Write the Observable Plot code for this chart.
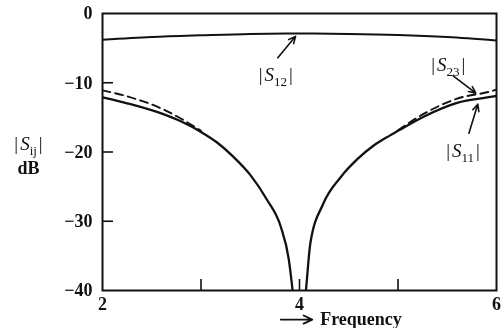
<!DOCTYPE html>
<html>
<head>
<meta charset="utf-8">
<script src="https://cdn.jsdelivr.net/npm/d3@7"></script>
<script src="https://cdn.jsdelivr.net/npm/@observablehq/plot@0.6"></script>
<style>
  html, body { margin: 0; padding: 0; background: #fff; }
  #chart svg { display: block; will-change: transform; }
</style>
</head>
<body>
<div id="chart"></div>
<script>
// |S12|: coupled transmission across the band (dB)
const s12Freq = [2, 2.5, 3, 3.5, 4, 4.5, 5, 5.5, 6];
const s12Db   = [-3.8, -3.4, -3.15, -2.95, -2.9, -2.95, -3.1, -3.4, -3.9];

// |S11|: input match, falling into a deep null at the centre frequency
const s11LowFreq  = [2, 2.26, 2.61, 2.8, 3.0, 3.17, 3.33, 3.5, 3.67, 3.81, 3.89, 3.93, 3.945];
const s11LowDb    = [-12.1, -13.0, -14.5, -15.6, -17.1, -18.7, -20.7, -23.3, -26.9, -30.8, -35.4, -40, -42];
const s11HighFreq = [4.05, 4.065, 4.11, 4.24, 4.42, 4.59, 4.75, 4.92, 5.03, 5.26, 5.6, 5.94, 6];
const s11HighDb   = [-42, -40, -33.2, -27.5, -23.6, -21.0, -19.1, -17.6, -16.7, -14.9, -12.9, -12.05, -11.9];

// |S23|: isolation (dashed), visible where it separates from |S11|
const s23LowFreq  = [2, 2.26, 2.61, 2.8, 3.0];
const s23LowDb    = [-11.1, -12.0, -13.8, -15.2, -16.95];
const s23HighFreq = [5.0, 5.26, 5.6, 5.94, 6];
const s23HighDb   = [-16.85, -14.5, -12.3, -11.25, -11.0];

// Axis ticks
const xTickLabels = [2, 4, 6];
const xInnerTicks = [3, 4, 5];
const yTickLabels = [0, -10, -20, -30, -40];
const yInnerTicks = [-10, -20, -30];

// Curve names and their pointer arrows (frequency, dB)
const curveNames = ["|S_12|", "|S_23|", "|S_11|"];
const nameFreq   = [3.76, 5.51, 5.66];
const nameDb     = [-8.9, -7.4, -19.8];
const arrowFrom  = [[3.78, -6.4], [5.56, -9.0], [5.72, -17.3]];
const arrowTo    = [[3.96, -3.3], [5.79, -11.5], [5.81, -13.1]];

const rows = (fs, dbs, series) => fs.map((f, i) => ({f, db: dbs[i], series}));
const s12 = rows(s12Freq, s12Db, "S12");
const s11 = [...rows(s11LowFreq, s11LowDb, "S11 low"), ...rows(s11HighFreq, s11HighDb, "S11 high")];
const s23 = [...rows(s23LowFreq, s23LowDb, "S23 low"), ...rows(s23HighFreq, s23HighDb, "S23 high")];
const names = curveNames.map((t, i) => ({t, f: nameFreq[i], db: nameDb[i]}));
const pointers = arrowFrom.map((a, i) => ({f1: a[0], db1: a[1], f2: arrowTo[i][0], db2: arrowTo[i][1]}));

const ink = "#111";
const W = 501, H = 328, mL = 102, mR = 5, mT = 13, mB = 38;
const plotW = W - mL - mR, plotH = H - mT - mB;

const chart = Plot.plot({
  width: W, height: H,
  marginLeft: mL, marginRight: mR, marginTop: mT, marginBottom: mB,
  x: {domain: [2, 6]},
  y: {domain: [-40, 0]},
  style: {fontFamily: "'Liberation Serif', 'DejaVu Serif', serif", fontSize: "18px", color: ink, background: "#fff"},
  marks: [
    // inward tick marks
    Plot.tickY(yInnerTicks, {y: d => d, stroke: ink, strokeWidth: 1.6, insetRight: plotW - 11}),
    Plot.tickX(xInnerTicks, {x: d => d, stroke: ink, strokeWidth: 1.6, insetTop: plotH - 11}),
    // tick labels
    Plot.axisY(yTickLabels, {anchor: "left", tickSize: 0, tickPadding: 10, label: null, fontWeight: "bold", fill: ink}),
    Plot.axisX(xTickLabels, {anchor: "bottom", tickSize: 0, tickPadding: 7, label: null, fontWeight: "bold", fill: ink}),
    // curves
    Plot.line(s12, {x: "f", y: "db", z: "series", curve: "monotone-x", stroke: ink, strokeWidth: 2, clip: true}),
    Plot.line(s11, {x: "f", y: "db", z: "series", curve: "monotone-x", stroke: ink, strokeWidth: 2.3, clip: true}),
    Plot.line(s23, {x: "f", y: "db", z: "series", curve: "monotone-x", stroke: ink, strokeWidth: 1.9, strokeDasharray: "8,5", clip: true}),
    Plot.frame({stroke: ink, strokeWidth: 2}),
    // curve names with pointer arrows
    Plot.arrow(pointers, {x1: "f1", y1: "db1", x2: "f2", y2: "db2", stroke: ink, strokeWidth: 1.6, headLength: 7, headAngle: 50}),
    Plot.text(names, {x: "f", y: "db", text: "t", fill: ink, fontSize: 19}),
    // y-axis title
    Plot.text(["|S_ij|"], {frameAnchor: "left", y: () => -18.8, dx: -74, textAnchor: "middle", text: d => d, fill: ink, fontSize: 19}),
    Plot.text(["dB"], {frameAnchor: "left", y: () => -22.3, dx: -74, textAnchor: "middle", text: d => d, fill: ink, fontWeight: "bold", fontSize: 18}),
    // x-axis title
    Plot.arrow([{f1: 3.81, f2: 4.13, db: -44.2}], {x1: "f1", x2: "f2", y1: "db", y2: "db", stroke: ink, strokeWidth: 1.8, headLength: 8, headAngle: 50}),
    Plot.text([{f: 4.21, db: -44.2, t: "Frequency"}], {x: "f", y: "db", text: "t", textAnchor: "start", fill: ink, fontWeight: "bold", fontSize: 18})
  ]
});

// Typeset "|S_xx|" labels: italic S with a subscript index
d3.select(chart).selectAll("text").each(function () {
  const m = /^\|S_(\w+)\|$/.exec(this.textContent);
  if (!m) return;
  const t = d3.select(this).text(null);
  t.append("tspan").text("|");
  t.append("tspan").attr("dx", 2).style("font-style", "italic").text("S");
  t.append("tspan").attr("dy", 5).style("font-size", "13px").text(m[1]);
  t.append("tspan").attr("dx", 2).attr("dy", -5).text("|");
});

document.getElementById("chart").appendChild(chart);
</script>
</body>
</html>
